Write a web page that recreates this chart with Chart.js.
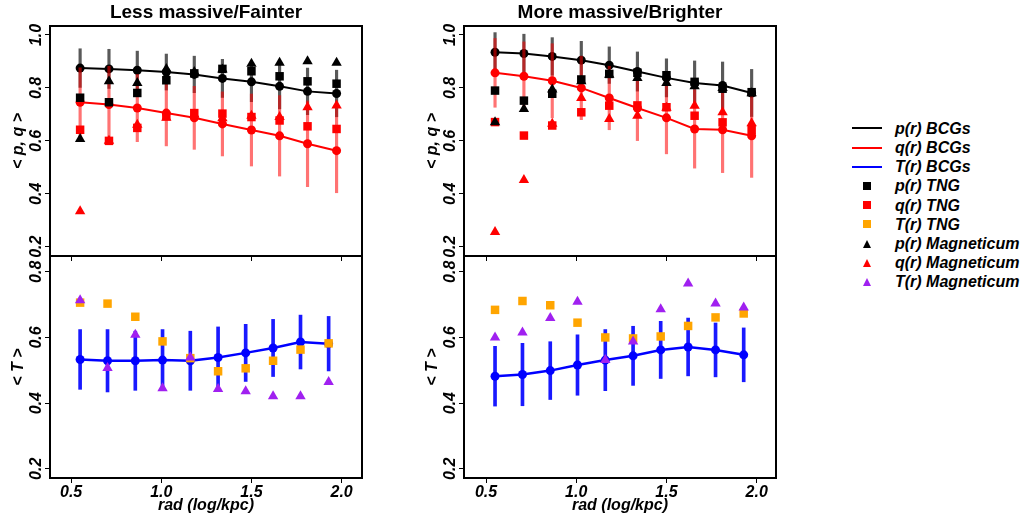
<!DOCTYPE html>
<html>
<head>
<meta charset="utf-8">
<script src="https://cdn.jsdelivr.net/npm/chart.js@4.4.0/dist/chart.umd.min.js"></script>
<style>
  body { margin: 0; background: #fff; width: 1025px; height: 516px; position: relative; overflow: hidden; }
  canvas { position: absolute; }
  .lg { position: absolute; }
  .lgtext { position: absolute; left: 895px; font: italic bold 16px "Liberation Sans", Arial, sans-serif; line-height: 19px; white-space: nowrap; color: #000; }
</style>
</head>
<body>
<canvas id="tl" width="372" height="264" style="left:0;top:0"></canvas>
<canvas id="bl" width="372" height="266" style="left:0;top:250px"></canvas>
<canvas id="tr" width="372" height="264" style="left:414px;top:0"></canvas>
<canvas id="br" width="372" height="266" style="left:414px;top:250px"></canvas>
<div id="legend"></div>
<script>
// radial bins (log kpc) as placed in the upper and lower panels
var xTop = [0.55, 0.71, 0.867, 1.028, 1.183, 1.339, 1.50, 1.656, 1.811, 1.972];
var xBot = [0.55, 0.702, 0.856, 1.007, 1.161, 1.315, 1.468, 1.62, 1.772, 1.928];

// less massive / fainter
var pBCG_L = [0.875, 0.872, 0.867, 0.860, 0.851, 0.836, 0.823, 0.806, 0.787, 0.779];
var pErr_L = [0.073, 0.074, 0.072, 0.068, 0.069, 0.072, 0.075, 0.085, 0.088, 0.088];
var qBCG_L = [0.746, 0.737, 0.724, 0.705, 0.687, 0.664, 0.641, 0.619, 0.589, 0.563];
var qErr_L = [0.13, 0.145, 0.127, 0.124, 0.119, 0.121, 0.136, 0.152, 0.162, 0.159];
var pTNG_L = [0.763, 0.746, 0.781, 0.829, 0.855, 0.872, 0.863, 0.844, 0.825, 0.816];
var qTNG_L = [0.642, 0.600, 0.649, 0.693, 0.705, 0.703, 0.690, 0.677, 0.655, 0.645];
var pMag_L = [0.607, 0.825, 0.819, 0.872, 0.860, 0.870, 0.891, 0.895, 0.901, 0.895];
var qMag_L = [0.334, 0.600, 0.661, 0.687, 0.700, 0.685, 0.695, 0.690, 0.727, 0.734];
var tBCG_L = [0.533, 0.529, 0.529, 0.531, 0.529, 0.539, 0.553, 0.568, 0.586, 0.581];
var tErr_L = [0.091, 0.095, 0.090, 0.093, 0.090, 0.093, 0.087, 0.087, 0.082, 0.083];
var tTNG_L = [0.706, 0.703, 0.663, 0.588, 0.537, 0.497, 0.506, 0.529, 0.563, 0.582];
var tMag_L = [0.713, 0.507, 0.608, 0.445, 0.539, 0.443, 0.436, 0.421, 0.421, 0.464];

// more massive / brighter
var pBCG_R = [0.935, 0.930, 0.919, 0.905, 0.886, 0.862, 0.838, 0.819, 0.809, 0.781];
var pErr_R = [0.074, 0.073, 0.071, 0.071, 0.069, 0.074, 0.072, 0.083, 0.089, 0.089];
var qBCG_R = [0.857, 0.844, 0.827, 0.800, 0.762, 0.724, 0.687, 0.645, 0.642, 0.619];
var qErr_R = [0.13, 0.13, 0.14, 0.12, 0.12, 0.123, 0.136, 0.148, 0.162, 0.157];
var pTNG_R = [0.790, 0.752, 0.778, 0.832, 0.853, 0.857, 0.848, 0.823, 0.797, 0.784];
var qTNG_R = [0.671, 0.620, 0.658, 0.708, 0.733, 0.734, 0.727, 0.695, 0.670, 0.642];
var pMag_R = [0.670, 0.720, 0.794, 0.825, 0.850, 0.838, 0.819, 0.806, 0.800, 0.780];
var qMag_R = [0.256, 0.452, 0.665, 0.762, 0.683, 0.695, 0.725, 0.733, 0.708, 0.667];
var tBCG_R = [0.482, 0.487, 0.499, 0.516, 0.531, 0.544, 0.562, 0.571, 0.562, 0.547];
var tErr_R = [0.091, 0.095, 0.088, 0.092, 0.093, 0.090, 0.087, 0.088, 0.082, 0.082];
var tTNG_R = [0.684, 0.711, 0.698, 0.645, 0.600, 0.597, 0.603, 0.635, 0.661, 0.673];
var tMag_R = [0.600, 0.615, 0.659, 0.709, 0.531, 0.588, 0.686, 0.764, 0.703, 0.691];

var FONT = '"Liberation Sans", Arial, sans-serif';
var BLACK = '#000000', RED = '#ff0000', BLUE = '#0000ff', ORANGE = '#ffa500', PURPLE = '#a020f0';

function pts(xs, ys) {
  return xs.map(function (x, i) { return { x: x, y: ys[i] }; });
}
function bars(xs, ys, err) {
  return xs.map(function (x, i) { return { x: x, y: [ys[i] - err[i], ys[i] + err[i]] }; });
}
function marker(xs, ys, style, color) {
  return { type: 'line', data: pts(xs, ys), showLine: false, pointStyle: style, pointRadius: 6,
           pointBackgroundColor: color, pointBorderWidth: 0 };
}
function bcgLine(xs, ys, color, w) {
  return { type: 'line', data: pts(xs, ys), borderColor: color, borderWidth: w, tension: 0, fill: false,
           pointRadius: 4.5, pointBackgroundColor: color, pointBorderWidth: 0 };
}
function errBars(xs, ys, err, color, w) {
  return { type: 'bar', data: bars(xs, ys, err), backgroundColor: color, borderWidth: 0,
           barThickness: w, maxBarThickness: w, grouped: false };
}

// frame box + y tick labels written along the axis
var framePlugin = {
  id: 'frame',
  afterDraw: function (chart) {
    var a = chart.chartArea, ctx = chart.ctx, ys = chart.scales.y;
    ctx.save();
    ctx.fillStyle = '#000';
    ctx.font = 'italic bold 16px ' + FONT;
    ctx.textAlign = 'center';
    ctx.textBaseline = 'middle';
    ys.ticks.forEach(function (t) {
      var py = ys.getPixelForValue(t.value);
      ctx.save();
      ctx.translate(a.left - 13, py);
      ctx.rotate(-Math.PI / 2);
      ctx.fillText(t.value.toFixed(1), 0, 0);
      ctx.restore();
    });
    ctx.lineWidth = 2;
    ctx.strokeStyle = '#000';
    ctx.strokeRect(a.left, a.top, a.right - a.left, a.bottom - a.top);
    ctx.restore();
  }
};

function panel(id, title, xr, yr, yTitle, showX, datasets) {
  return new Chart(document.getElementById(id), {
    type: 'line',
    data: { datasets: datasets },
    options: {
      responsive: false,
      animation: false,
      events: [],
      layout: { padding: { top: title ? 0 : 6, right: 10, left: 0, bottom: 0 } },
      plugins: {
        legend: { display: false },
        tooltip: { enabled: false },
        title: {
          display: !!title, text: title, fullSize: false, color: '#000',
          font: { family: FONT, size: 19, weight: 'bold', lineHeight: 1 },
          padding: { top: 3, bottom: 4 }
        }
      },
      scales: {
        x: {
          type: 'linear', min: xr[0], max: xr[1], offset: false,
          afterFit: function (s) { s.height = showX ? 38 : 8; },
          border: { display: false },
          grid: { offset: false, drawOnChartArea: false, drawTicks: true, tickLength: 5, color: '#000', lineWidth: 1 },
          ticks: {
            display: showX, stepSize: 0.5, includeBounds: false, color: '#000', padding: 2,
            maxRotation: 0, autoSkip: false,
            font: { family: FONT, size: 16, weight: 'bold', style: 'italic', lineHeight: 1 },
            callback: function (v) { return v.toFixed(1); }
          },
          title: {
            display: showX, text: 'rad (log/kpc)', color: '#000', padding: { top: 0, bottom: 2 },
            font: { family: FONT, size: 16, weight: 'bold', style: 'italic', lineHeight: 1 }
          }
        },
        y: {
          type: 'linear', min: yr[0], max: yr[1], beginAtZero: false,
          afterFit: function (s) { s.width = 50; },
          border: { display: false },
          grid: { drawOnChartArea: false, drawTicks: true, tickLength: 5, color: '#000', lineWidth: 1 },
          ticks: { display: false, stepSize: 0.2, includeBounds: false },
          title: {
            display: true, text: yTitle, color: '#000', padding: 11,
            font: { family: FONT, size: 16, weight: 'bold', style: 'italic', lineHeight: 1 }
          }
        }
      }
    },
    plugins: [framePlugin]
  });
}

function topSets(p, pe, q, qe, pt, qt, pm, qm) {
  return [
    marker(xTop, qm, 'triangle', RED),
    marker(xTop, pm, 'triangle', BLACK),
    marker(xTop, qt, 'rect', RED),
    marker(xTop, pt, 'rect', BLACK),
    errBars(xTop, q, qe, 'rgba(255,0,0,0.55)', 2.5),
    bcgLine(xTop, q, RED, 2),
    errBars(xTop, p, pe, 'rgba(0,0,0,0.65)', 2.5),
    bcgLine(xTop, p, BLACK, 2)
  ];
}
function botSets(t, te, tt, tm) {
  return [
    marker(xBot, tm, 'triangle', PURPLE),
    marker(xBot, tt, 'rect', ORANGE),
    bcgLine(xBot, t, BLUE, 2.5),
    errBars(xBot, t, te, 'rgba(0,0,255,0.9)', 3)
  ];
}

panel('tl', 'Less massive/Fainter', [0.383, 2.113], [0.165, 1.034], '< p, q >', false,
      topSets(pBCG_L, pErr_L, qBCG_L, qErr_L, pTNG_L, qTNG_L, pMag_L, qMag_L));
panel('bl', '', [0.383, 2.113], [0.172, 0.848], '< T >', true,
      botSets(tBCG_L, tErr_L, tTNG_L, tMag_L));
panel('tr', 'More massive/Brighter', [0.378, 2.107], [0.165, 1.034], '< p, q >', false,
      topSets(pBCG_R, pErr_R, qBCG_R, qErr_R, pTNG_R, qTNG_R, pMag_R, qMag_R));
panel('br', '', [0.378, 2.107], [0.172, 0.848], '< T >', true,
      botSets(tBCG_R, tErr_R, tTNG_R, tMag_R));

// legend
var legendLabels = ['p(r) BCGs', 'q(r) BCGs', 'T(r) BCGs', 'p(r) TNG', 'q(r) TNG', 'T(r) TNG',
                    'p(r) Magneticum', 'q(r) Magneticum', 'T(r) Magneticum'];
var legendKinds = ['line', 'line', 'line', 'rect', 'rect', 'rect', 'tri', 'tri', 'tri'];
var legendColors = [BLACK, RED, BLUE, BLACK, RED, ORANGE, BLACK, RED, PURPLE];

var lg = document.getElementById('legend');
legendLabels.forEach(function (label, i) {
  var cy = 128.3 + i * 19.2;
  var m = document.createElement('div');
  m.className = 'lg';
  if (legendKinds[i] === 'line') {
    m.style.cssText = 'left:852px;width:30px;height:2px;top:' + (cy - 1) + 'px;background:' + legendColors[i];
  } else if (legendKinds[i] === 'rect') {
    m.style.cssText = 'left:863px;width:8px;height:8px;top:' + (cy - 4) + 'px;background:' + legendColors[i];
  } else {
    m.style.cssText = 'left:863px;width:0;height:0;top:' + (cy - 4) + 'px;border-left:4.5px solid transparent;' +
      'border-right:4.5px solid transparent;border-bottom:8px solid ' + legendColors[i];
  }
  lg.appendChild(m);
  var t = document.createElement('div');
  t.className = 'lgtext';
  t.style.top = (cy - 9.5) + 'px';
  t.textContent = label;
  lg.appendChild(t);
});
</script>
</body>
</html>
